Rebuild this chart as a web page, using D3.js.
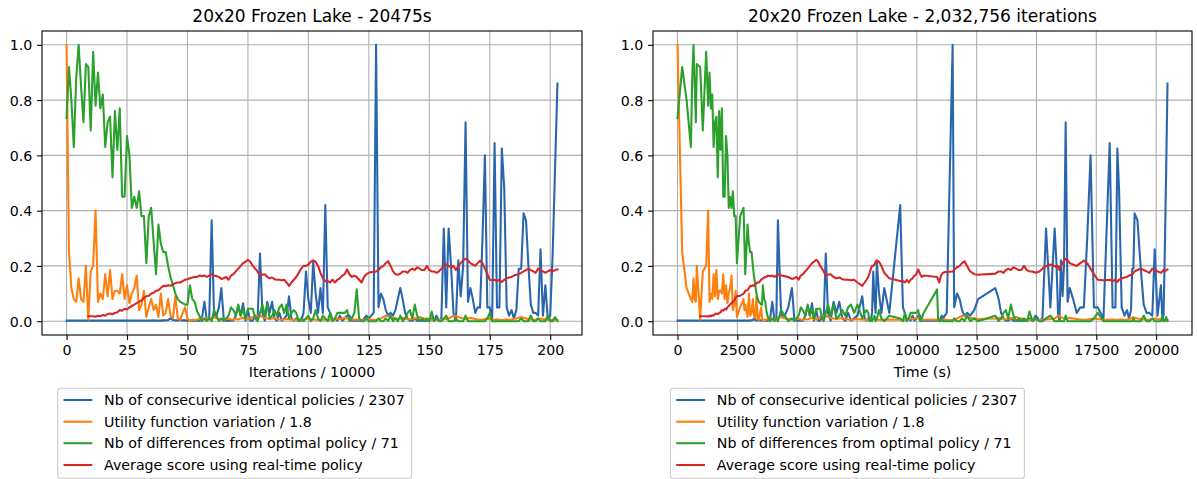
<!DOCTYPE html>
<html>
<head>
<meta charset="utf-8">
<script src="https://cdn.jsdelivr.net/npm/d3@7"></script>
<style>
  html, body { margin: 0; padding: 0; background: #fff; }
  svg { display: block; font-family: "DejaVu Sans", sans-serif; }
</style>
</head>
<body>
<svg id="chart" width="1197" height="479"></svg>
<script>
// Sample index (one sample every 10000 iterations)
const iterations = d3.range(0, 204);

// Wall-clock time (s) at each sample
const times = [
  0,196,380,560,615,670,720,766,808,947,
  1058,1198,1280,1338,1395,1452,1510,1568,1625,1682,
  1740,1797,1855,1912,1970,2027,2085,2142,2200,2257,
  2315,2372,2430,2482,2620,2760,2795,2830,2928,2985,
  3040,3095,3150,3200,3250,3300,3350,3400,3450,3495,
  3530,3569,3620,3670,3718,3764,3870,3960,4050,4130,
  4196,4330,4480,4630,4781,4880,4970,5060,5150,5240,
  5340,5440,5530,5620,5700,5800,5880,5960,6040,6110,
  6195,6290,6400,6520,6640,6760,6890,7010,7130,7250,
  7380,7520,7720,7820,7900,7970,8030,8080,8130,8180,
  8230,8280,8330,8420,8520,8640,8850,9306,9420,9500,
  9580,9660,9740,9820,9900,9980,10060,10140,10210,10285,
  10845,10890,10940,10990,11040,11100,11170,11250,11497,11560,
  11680,11790,11890,11990,12100,12230,12400,12560,13280,13420,
  13520,13620,13720,13820,13930,14040,14150,14260,14370,14480,
  14600,14710,14830,14970,15120,15250,15400,15580,15760,15840,
  15900,15960,16020,16090,16150,16220,16300,16390,16530,16680,
  16830,16980,17120,17260,17400,17560,17800,18060,18180,18300,
  18380,18450,18560,18680,18780,18870,18950,19000,19050,19100,
  19220,19350,19480,19600,19720,19840,19940,20060,20200,20260,
  20310,20360,20420,20475
];

// Nb of consecutive identical policies / 2307
const identicalPolicies = [
  0.002,0.002,0.002,0.002,0.002,0.002,0.002,0.002,0.002,0.002,
  0.002,0.002,0.002,0.002,0.002,0.002,0.002,0.002,0.002,0.002,
  0.002,0.002,0.002,0.002,0.002,0.002,0.002,0.002,0.002,0.002,
  0.002,0.002,0.002,0.002,0.002,0.002,0.003,0.002,0.002,0.002,
  0.003,0.003,0.004,0.010,0.004,0.003,0.003,0.004,0.003,0.003,
  0.002,0.002,0.002,0.003,0.002,0.002,0.010,0.070,0.005,0.010,
  0.365,0.020,0.020,0.050,0.120,0.010,0.002,0.002,0.002,0.002,
  0.020,0.055,0.020,0.065,0.002,0.040,0.002,0.002,0.020,0.010,
  0.245,0.030,0.002,0.070,0.030,0.070,0.010,0.002,0.030,0.002,
  0.010,0.020,0.090,0.010,0.002,0.010,0.002,0.002,0.030,0.180,
  0.080,0.030,0.215,0.100,0.030,0.120,0.030,0.420,0.050,0.030,
  0.002,0.010,0.002,0.020,0.002,0.010,0.020,0.020,0.002,0.002,
  0.002,0.002,0.002,0.010,0.020,0.010,0.020,0.030,1.000,0.050,
  0.100,0.080,0.040,0.020,0.030,0.020,0.040,0.080,0.120,0.080,
  0.030,0.010,0.002,0.002,0.010,0.002,0.002,0.002,0.002,0.002,
  0.002,0.010,0.002,0.020,0.002,0.010,0.335,0.050,0.335,0.200,
  0.030,0.002,0.220,0.090,0.200,0.720,0.070,0.120,0.080,0.030,
  0.050,0.050,0.300,0.600,0.050,0.050,0.010,0.645,0.050,0.050,
  0.625,0.480,0.050,0.020,0.040,0.010,0.040,0.190,0.190,0.390,
  0.365,0.200,0.060,0.030,0.030,0.020,0.260,0.020,0.130,0.010,
  0.020,0.240,0.550,0.860
];

// Utility function variation / 1.8
const utilityVariation = [
  1.0,0.25,0.12,0.08,0.07,0.155,0.08,0.07,0.2,0.005,
  0.18,0.2,0.40,0.07,0.10,0.08,0.17,0.09,0.185,0.08,
  0.11,0.11,0.10,0.17,0.08,0.13,0.065,0.10,0.12,0.165,
  0.04,0.06,0.11,0.015,0.05,0.08,0.04,0.06,0.015,0.10,
  0.02,0.03,0.08,0.02,0.01,0.09,0.01,0.005,0.03,0.05,
  0.01,0.0,0.005,0.004,0.006,0.008,0.01,0.006,0.01,0.008,
  0.012,0.015,0.01,0.008,0.006,0.005,0.008,0.01,0.006,0.005,
  0.008,0.006,0.01,0.012,0.008,0.006,0.01,0.015,0.02,0.018,
  0.02,0.015,0.012,0.01,0.008,0.01,0.012,0.008,0.006,0.005,
  0.006,0.008,0.006,0.005,0.004,0.006,0.005,0.004,0.006,0.008,
  0.01,0.008,0.006,0.005,0.004,0.005,0.006,0.005,0.004,0.005,
  0.006,0.008,0.01,0.008,0.01,0.012,0.01,0.008,0.006,0.005,
  0.006,0.005,0.004,0.005,0.006,0.008,0.006,0.005,0.004,0.006,
  0.01,0.015,0.02,0.018,0.015,0.012,0.01,0.008,0.01,0.012,
  0.01,0.008,0.006,0.008,0.01,0.012,0.015,0.012,0.01,0.008,
  0.006,0.005,0.006,0.005,0.004,0.005,0.006,0.008,0.01,0.015,
  0.02,0.018,0.015,0.012,0.01,0.008,0.01,0.012,0.01,0.008,
  0.006,0.005,0.006,0.008,0.01,0.008,0.006,0.005,0.006,0.005,
  0.004,0.005,0.006,0.005,0.006,0.008,0.01,0.012,0.015,0.012,
  0.01,0.008,0.006,0.005,0.006,0.008,0.01,0.008,0.006,0.005,
  0.004,0.005,0.006,0.005
];

// Nb of differences from optimal policy / 71
const optimalDifferences = [
  0.735,0.92,0.80,0.63,0.88,1.0,0.85,0.72,0.93,0.92,
  0.69,0.975,0.78,0.90,0.77,0.82,0.63,0.72,0.74,0.52,
  0.76,0.62,0.77,0.45,0.45,0.67,0.60,0.41,0.45,0.41,
  0.47,0.38,0.38,0.21,0.38,0.41,0.29,0.17,0.35,0.28,
  0.25,0.25,0.20,0.16,0.13,0.10,0.08,0.07,0.065,0.06,
  0.06,0.13,0.08,0.07,0.036,0.018,0.0,0.01,0.0,0.01,
  0.0,0.04,0.02,0.0,0.01,0.0,0.01,0.02,0.05,0.04,
  0.02,0.06,0.02,0.045,0.01,0.045,0.045,0.045,0.01,0.0,
  0.03,0.06,0.02,0.06,0.01,0.02,0.04,0.02,0.05,0.06,
  0.03,0.06,0.01,0.03,0.04,0.03,0.0,0.01,0.0,0.01,
  0.02,0.0,0.01,0.04,0.01,0.0,0.02,0.01,0.0,0.03,
  0.0,0.01,0.03,0.03,0.03,0.03,0.04,0.0,0.01,0.03,
  0.115,0.01,0.0,0.0,0.01,0.0,0.0,0.0,0.0,0.01,
  0.0,0.0,0.01,0.0,0.02,0.0,0.01,0.0,0.02,0.0,
  0.01,0.03,0.04,0.01,0.06,0.02,0.0,0.01,0.0,0.01,
  0.0,0.035,0.0,0.01,0.0,0.0,0.01,0.02,0.0,0.0,
  0.0,0.01,0.0,0.0,0.0,0.02,0.0,0.0,0.0,0.0,
  0.0,0.0,0.0,0.0,0.01,0.03,0.0,0.0,0.0,0.0,
  0.0,0.0,0.0,0.0,0.0,0.0,0.0,0.0,0.01,0.0,
  0.0,0.0,0.02,0.0,0.0,0.01,0.0,0.0,0.0,0.02,
  0.0,0.0,0.015,0.0
];

// Average score using real-time policy (no evaluation before sample 9)
const averageScore = [
  null,null,null,null,null,null,null,null,null,0.018,
  0.018,0.018,0.016,0.02,0.018,0.022,0.02,0.026,0.028,0.025,
  0.03,0.032,0.04,0.038,0.045,0.042,0.05,0.055,0.06,0.065,
  0.07,0.075,0.085,0.09,0.092,0.1,0.103,0.11,0.112,0.12,
  0.128,0.127,0.13,0.128,0.133,0.138,0.14,0.14,0.145,0.15,
  0.152,0.155,0.158,0.16,0.16,0.165,0.163,0.165,0.16,0.165,
  0.17,0.165,0.163,0.16,0.153,0.155,0.16,0.15,0.165,0.17,
  0.18,0.19,0.2,0.21,0.215,0.222,0.215,0.2,0.19,0.18,
  0.165,0.168,0.17,0.16,0.155,0.158,0.152,0.15,0.15,0.148,
  0.15,0.14,0.128,0.14,0.15,0.16,0.175,0.19,0.2,0.2,
  0.205,0.215,0.22,0.215,0.2,0.175,0.155,0.145,0.145,0.14,
  0.15,0.14,0.15,0.155,0.165,0.17,0.187,0.17,0.16,0.165,
  0.16,0.15,0.14,0.16,0.17,0.175,0.178,0.178,0.18,0.185,
  0.195,0.2,0.21,0.217,0.2,0.18,0.17,0.168,0.172,0.18,
  0.18,0.175,0.185,0.19,0.185,0.195,0.19,0.185,0.185,0.2,
  0.185,0.18,0.18,0.175,0.18,0.19,0.2,0.205,0.2,0.195,
  0.2,0.185,0.2,0.21,0.22,0.226,0.22,0.21,0.205,0.2,
  0.21,0.219,0.21,0.19,0.17,0.15,0.148,0.15,0.145,0.15,
  0.142,0.15,0.155,0.158,0.16,0.165,0.168,0.17,0.175,0.18,
  0.185,0.19,0.185,0.18,0.175,0.19,0.185,0.18,0.175,0.18,
  0.185,0.18,0.185,0.187
];

const seriesNames = [
  "Nb of consecurive identical policies / 2307",
  "Utility function variation / 1.8",
  "Nb of differences from optimal policy / 71",
  "Average score using real-time policy"
];
const seriesValues = [identicalPolicies, utilityVariation, optimalDifferences, averageScore];
const seriesColors = ["#2a66ae", "#ff7f0e", "#2ca02c", "#d62728"];

const yTicks = [0.0, 0.2, 0.4, 0.6, 0.8, 1.0];
const iterTicks = [0, 25, 50, 75, 100, 125, 150, 175, 200];
const timeTicks = [0, 2500, 5000, 7500, 10000, 12500, 15000, 17500, 20000];

const titles = ["20x20 Frozen Lake - 20475s", "20x20 Frozen Lake - 2,032,756 iterations"];
const xLabels = ["Iterations / 10000", "Time (s)"];

const svg = d3.select("#chart");
const FS = 14.2;          // tick / label font size
const TITLE_FS = 17.0;
const plotTop = 31, plotBottom = 335;
const y = d3.scaleLinear().domain([-0.05, 1.05]).range([plotBottom, plotTop]);

function withMargin(ext) {
  const m = (ext[1] - ext[0]) * 0.05;
  return [ext[0] - m, ext[1] + m];
}

function panel(idx, xs, left, right, xTicks, legendLeft) {
  const g = svg.append("g");
  const x = d3.scaleLinear().domain(withMargin(d3.extent(xs))).range([left, right]);

  const clipId = "clip" + idx;
  svg.append("clipPath").attr("id", clipId)
    .append("rect").attr("x", left).attr("y", plotTop)
    .attr("width", right - left).attr("height", plotBottom - plotTop);

  // grid
  const grid = g.append("g").attr("stroke", "#b0b0b0").attr("stroke-width", 1.1);
  grid.selectAll(".gx").data(xTicks).join("line")
    .attr("x1", d => x(d)).attr("x2", d => x(d)).attr("y1", plotTop).attr("y2", plotBottom);
  grid.selectAll(".gy").data(yTicks).join("line")
    .attr("y1", d => y(d)).attr("y2", d => y(d)).attr("x1", left).attr("x2", right);

  // series lines
  const lines = g.append("g").attr("clip-path", `url(#${clipId})`);
  seriesValues.forEach((vals, k) => {
    const pts = xs.map((xv, i) => [xv, vals[i]]);
    const line = d3.line()
      .defined(d => d[1] !== null)
      .x(d => x(d[0])).y(d => y(d[1]));
    lines.append("path").datum(pts)
      .attr("fill", "none").attr("stroke", seriesColors[k])
      .attr("stroke-width", 2.08).attr("stroke-linejoin", "round")
      .attr("stroke-linecap", "square")
      .attr("d", line);
  });

  // axes
  const xAxis = d3.axisBottom(x).tickValues(xTicks).tickFormat(d3.format("d"))
    .tickSizeInner(4.9).tickSizeOuter(0).tickPadding(4.9);
  const yAxis = d3.axisLeft(y).tickValues(yTicks).tickFormat(d3.format(".1f"))
    .tickSizeInner(4.9).tickSizeOuter(0).tickPadding(4.9);
  const gx = g.append("g").attr("transform", `translate(0,${plotBottom})`).call(xAxis);
  const gy = g.append("g").attr("transform", `translate(${left},0)`).call(yAxis);
  [gx, gy].forEach(a => {
    a.select(".domain").remove();
    a.selectAll(".tick line").attr("stroke", "#000").attr("stroke-width", 1.1);
    a.selectAll(".tick text").attr("fill", "#000")
      .style("font-family", "DejaVu Sans").style("font-size", FS + "px");
  });
  gx.selectAll(".tick text").attr("dy", null).attr("y", 4.9 + 4.9 + 10.4);
  gy.selectAll(".tick text").attr("dy", null).attr("y", 5.1);

  // spines
  g.append("rect").attr("x", left).attr("y", plotTop)
    .attr("width", right - left).attr("height", plotBottom - plotTop)
    .attr("fill", "none").attr("stroke", "#000").attr("stroke-width", 1.1);

  // title & x label
  const cx = (left + right) / 2;
  g.append("text").attr("x", cx).attr("y", 21.5).attr("text-anchor", "middle")
    .style("font-size", TITLE_FS + "px").attr("fill", "#000").text(titles[idx]);
  g.append("text").attr("x", cx).attr("y", 377).attr("text-anchor", "middle")
    .style("font-size", FS + "px").attr("fill", "#000").text(xLabels[idx]);

  // legend
  const lg = g.append("g");
  const box = lg.append("rect");
  const rowY = [400, 421.7, 443.2, 465];
  const texts = [];
  seriesNames.forEach((name, k) => {
    lg.append("line")
      .attr("x1", legendLeft + 5.8).attr("x2", legendLeft + 34.6)
      .attr("y1", rowY[k]).attr("y2", rowY[k])
      .attr("stroke", seriesColors[k]).attr("stroke-width", 2.08);
    texts.push(lg.append("text")
      .attr("x", legendLeft + 46.4).attr("y", rowY[k] + 5.1)
      .style("font-size", FS + "px").attr("fill", "#000").text(name));
  });
  const tw = d3.max(texts, t => t.node().getComputedTextLength());
  box.attr("x", legendLeft).attr("y", 388.3)
    .attr("width", 46.4 + tw + 7).attr("height", 90)
    .attr("rx", 2.8).attr("fill", "#fff").attr("fill-opacity", 0.8)
    .attr("stroke", "#cccccc").attr("stroke-width", 1.1);
}

panel(0, iterations, 42, 582, iterTicks, 57.7);
panel(1, times, 653, 1192, timeTicks, 670.4);
</script>
</body>
</html>
